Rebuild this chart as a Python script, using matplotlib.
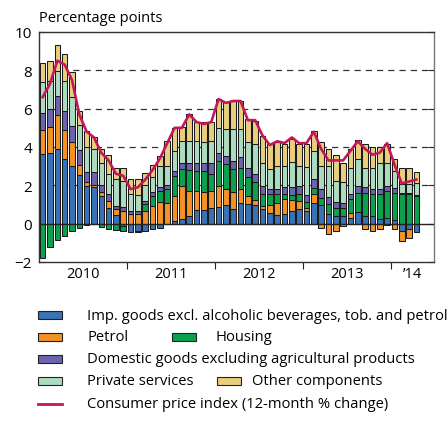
import numpy as np
import matplotlib.pyplot as plt
from matplotlib.patches import Rectangle
from matplotlib.lines import Line2D

plt.rcParams['font.family'] = ['Open Sans', 'DejaVu Sans']

# monthly, Jan 2010 - Apr 2014 (percentage-point contributions)
imported = [3.63, 3.68, 3.92, 3.37, 2.99, 2.53, 1.97, 1.89, 1.45, 0.84, 0.46, -0.10,
            -0.46, -0.40, -0.37, -0.29, -0.20, 0.00, 0.15, 0.23, 0.41, 0.70, 0.70, 0.84,
            0.88, 0.97, 0.79, 1.10, 1.02, 0.97, 0.79, 0.58, 0.46, 0.50, 0.67, 0.79,
            0.67, 1.10, 1.00, 0.49, 0.40, 0.40, 0.31, 0.63, 0.40, 0.40, 0.23, 0.28,
            0.19, -0.38, -0.29, -0.42]
petrol = [1.25, 1.38, 1.75, 1.51, 1.28, 0.54, 0.23, 0.14, 0.22, 0.35, 0.30, 0.65,
          0.50, 0.50, 0.67, 0.93, 1.14, 1.10, 1.30, 1.74, 1.30, 1.01, 0.93, 0.85,
          1.09, 0.83, 0.87, 0.73, 0.44, 0.28, 0.14, 0.38, 0.61, 0.78, 0.57, 0.40,
          0.14, 0.43, -0.20, -0.56, -0.38, -0.12, 0.23, 0.00, -0.29, -0.40, -0.29, -0.05,
          -0.29, -0.52, -0.44, 0.00]
housing = [-1.77, -1.24, -0.84, -0.64, -0.37, -0.20, -0.05, -0.02, -0.15, -0.30, -0.32, -0.30,
           0.00, -0.05, 0.35, 0.52, 0.57, 0.70, 1.05, 0.87, 1.10, 1.05, 1.13, 0.92,
           1.31, 1.30, 1.18, 1.10, 0.96, 0.90, 0.61, 0.57, 0.47, 0.26, 0.24, 0.35,
           0.30, 0.35, 0.35, 0.55, 0.41, 0.40, 0.73, 0.96, 1.18, 1.13, 1.34, 1.43,
           1.39, 1.54, 1.54, 1.45]
domestic = [0.92, 0.92, 1.01, 1.02, 0.83, 0.77, 0.47, 0.64, 0.35, 0.35, 0.17, 0.20,
            0.17, 0.17, 0.17, 0.18, 0.18, 0.24, 0.26, 0.35, 0.38, 0.43, 0.43, 0.56,
            0.43, 0.44, 0.44, 0.57, 0.47, 0.44, 0.40, 0.30, 0.26, 0.35, 0.45, 0.40,
            0.40, 0.44, 0.47, 0.35, 0.30, 0.26, 0.26, 0.35, 0.35, 0.30, 0.26, 0.23,
            0.26, 0.06, 0.06, 0.05]
services = [1.57, 1.44, 1.30, 1.56, 1.49, 1.32, 1.31, 1.22, 1.15, 1.04, 1.39, 1.40,
            0.87, 0.85, 0.81, 0.83, 1.13, 0.98, 1.04, 1.14, 1.14, 1.14, 1.05, 1.16,
            1.26, 1.39, 1.66, 1.43, 1.35, 1.56, 1.20, 1.01, 1.19, 1.10, 1.30, 1.05,
            1.44, 1.48, 1.20, 1.62, 1.13, 1.13, 1.40, 1.43, 1.00, 1.07, 1.36, 1.25,
            0.92, 0.45, 0.45, 0.61]
other = [0.99, 1.07, 1.36, 1.37, 1.30, 0.72, 0.83, 0.64, 0.70, 1.01, 0.60, 0.65,
         0.80, 0.80, 0.63, 0.60, 0.52, 1.31, 1.17, 0.69, 1.39, 0.95, 1.04, 0.95,
         1.56, 1.43, 1.44, 1.45, 1.22, 1.22, 1.41, 1.31, 1.25, 1.19, 1.18, 1.16,
         1.20, 1.05, 1.22, 0.87, 1.36, 1.00, 0.96, 0.99, 1.22, 1.08, 0.79, 0.99,
         0.61, 0.83, 0.83, 0.56]
cpi = [6.6, 7.3, 8.5, 8.3, 7.5, 5.7, 4.8, 4.5, 3.7, 3.3, 2.6, 2.5,
       1.8, 1.9, 2.3, 2.8, 3.4, 4.2, 5.0, 5.0, 5.7, 5.3, 5.2, 5.3,
       6.5, 6.3, 6.4, 6.4, 5.4, 5.4, 4.6, 4.1, 4.3, 4.2, 4.5, 4.2,
       4.2, 4.8, 3.9, 3.3, 3.3, 3.3, 3.8, 4.3, 3.9, 3.6, 3.7, 4.2,
       3.1, 2.1, 2.2, 2.3]
year_labels = ['2010', '2011', '2012', '2013', '\u201914']

c_imp = '#3a72b5'
c_pet = '#f39325'
c_hou = '#0aa14f'
c_dom = '#6b64ae'
c_ser = '#acdcbf'
c_oth = '#e9cf7b'
c_cpi = '#c2185b'

fig = plt.figure(figsize=(4.48, 4.35), dpi=100)
ax = fig.add_axes([39/448, 1-263/435, 395/448, 230/435])

x = np.arange(len(cpi))
pos = np.zeros(len(x))
neg = np.zeros(len(x))
for vals, col in [(imported, c_imp), (petrol, c_pet), (housing, c_hou),
                  (domestic, c_dom), (services, c_ser), (other, c_oth)]:
    v = np.array(vals)
    base = np.where(v >= 0, pos, neg)
    ax.bar(x, v, bottom=base, width=0.76, color=col, edgecolor='#1a1a1a',
           linewidth=0.75, zorder=2)
    pos += np.clip(v, 0, None)
    neg += np.clip(v, None, 0)

ax.plot(x, cpi, color=c_cpi, lw=1.9, zorder=4, solid_joinstyle='round')

for g in [2, 4, 6, 8]:
    ax.axhline(g, color='#333333', lw=0.9, dashes=(5, 4), zorder=1)
ax.axhline(0, color='#222222', lw=1.0, zorder=3)

ax.set_ylim(-2, 10)
ax.set_xlim(-0.5, 53.4)
ax.set_yticks(range(-2, 11, 2))
ax.tick_params(axis='y', direction='in', left=True, right=True, length=4,
               labelsize=11, pad=5, color='#222222')

bounds = [-0.5, 11.5, 23.5, 35.5, 47.5, 53.4]
ax.set_xticks(bounds[1:-1])
ax.set_xticklabels([])
ax.tick_params(axis='x', which='major', direction='out', length=5, color='#222222')
centers = [(bounds[i] + bounds[i+1]) / 2 for i in range(5)]
ax.set_xticks(centers, minor=True)
ax.set_xticklabels(year_labels, minor=True)
ax.tick_params(axis='x', which='minor', length=0, labelsize=10.5, pad=3)

for s in ax.spines.values():
    s.set_color('#333333')
    s.set_linewidth(1.0)
ax.spines['right'].set_color('#777777')

fig.text(39/448, 1-18/435, 'Percentage points', fontsize=10.5, va='center', ha='left')

# legend drawn by hand to match the reference layout
def patch(px, py, col):
    fig.add_artist(Rectangle((px/448, 1-(py+4)/435), 24/448, 8/435, facecolor=col,
                             edgecolor='#222222', lw=0.8, transform=fig.transFigure))

def label(px, py, txt):
    fig.text(px/448, 1-py/435, txt, fontsize=10.6, va='center', ha='left')

rows = [316, 338, 360, 382, 405]
patch(38, rows[0], c_imp); label(87, rows[0], 'Imp. goods excl. alcoholic beverages, tob. and petrol')
patch(38, rows[1], c_pet); label(87, rows[1], 'Petrol')
patch(172, rows[1], c_hou); label(215, rows[1], 'Housing')
patch(38, rows[2], c_dom); label(87, rows[2], 'Domestic goods excluding agricultural products')
patch(38, rows[3], c_ser); label(87, rows[3], 'Private services')
patch(217, rows[3], c_oth); label(252, rows[3], 'Other components')
fig.add_artist(Line2D([38/448, 62/448], [1-rows[4]/435]*2, color=c_cpi, lw=2,
                      transform=fig.transFigure))
label(87, rows[4], 'Consumer price index (12-month % change)')

fig.savefig('out.png', dpi=100)
